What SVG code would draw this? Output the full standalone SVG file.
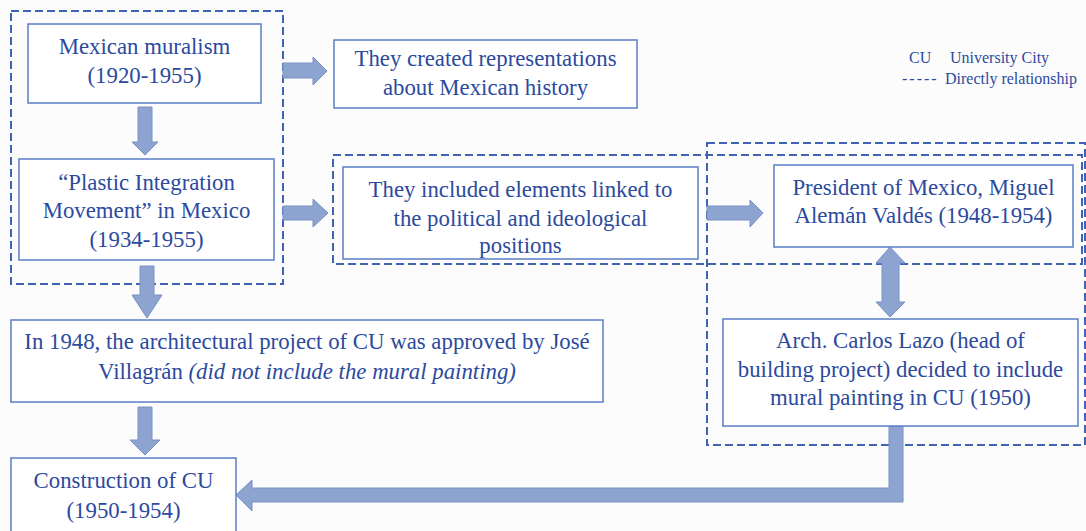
<svg xmlns="http://www.w3.org/2000/svg" width="1086" height="531" viewBox="0 0 1086 531">
  <style>
    .box { fill: #ffffff; stroke: #5a7ec6; stroke-width: 1.5; }
    .group { fill: none; stroke: #3f64b4; stroke-width: 2; stroke-dasharray: 8 4; }
    .arrow { fill: #8ea4d0; stroke: #7890c6; stroke-width: 1; }
    .t { font-family: "Liberation Serif", "Times New Roman", serif; font-size: 22.8px; fill: #2c4a9e; text-anchor: middle; }
    .legend { font-family: "Liberation Serif", "Times New Roman", serif; font-size: 16px; fill: #2c4a9e; }
  </style>
  <rect width="1086" height="531" fill="#fcfcfd"/>

  <!-- dashed grouping frames -->
  <g id="groups">
    <rect class="group" x="11" y="11" width="272" height="273"/>
    <rect class="group" x="333" y="155" width="749" height="109"/>
    <rect class="group" x="707" y="143" width="378" height="302"/>
  </g>

  <!-- block-arrow connectors -->
  <g id="connectors">
    <polygon class="arrow" points="283,63 313,63 313,57 327,71 313,85 313,78 283,78"/>
    <polygon class="arrow" points="283,206 313,206 313,199 328,213 313,227 313,220 283,220"/>
    <polygon class="arrow" points="707,206 750,206 750,200 763,213 750,227 750,220 707,220"/>
    <polygon class="arrow" points="138,107 152,107 152,142 158,142 145,155 132,142 138,142"/>
    <polygon class="arrow" points="140,266 154,266 154,295 162,295 147,318 132,295 140,295"/>
    <polygon class="arrow" points="138,407 152,407 152,440 160,440 145,455 130,440 138,440"/>
    <polygon class="arrow" points="890,247 905,263 899,263 899,302 905,302 890,317 876,302 882,302 882,263 876,263"/>
    <polygon class="arrow" points="889,426 903,426 903,502 252,502 252,511 236,495 252,480 252,488 889,488"/>
  </g>

  <g id="node-muralism">
    <rect class="box" x="28" y="24" width="233" height="79"/>
    <text class="t" x="144.5" y="54">Mexican muralism</text>
    <text class="t" x="144.5" y="83">(1920-1955)</text>
  </g>

  <g id="node-representations">
    <rect class="box" x="334" y="40" width="303" height="68"/>
    <text class="t" x="485.5" y="66">They created representations</text>
    <text class="t" x="485.5" y="95">about Mexican history</text>
  </g>

  <g id="node-plastic">
    <rect class="box" x="19" y="159" width="255" height="101"/>
    <text class="t" x="146.5" y="190">“Plastic Integration</text>
    <text class="t" x="146.5" y="218">Movement” in Mexico</text>
    <text class="t" x="146.5" y="247">(1934-1955)</text>
  </g>

  <g id="node-elements">
    <rect class="box" x="343" y="167" width="355" height="92"/>
    <text class="t" x="520.5" y="197">They included elements linked to</text>
    <text class="t" x="520.5" y="226">the political and ideological</text>
    <text class="t" x="520.5" y="253">positions</text>
  </g>

  <g id="node-president">
    <rect class="box" x="774" y="165" width="299" height="82"/>
    <text class="t" x="923.5" y="195">President of Mexico, Miguel</text>
    <text class="t" x="923.5" y="223">Alemán Valdés (1948-1954)</text>
  </g>

  <g id="node-lazo">
    <rect class="box" x="723" y="319" width="355" height="107"/>
    <text class="t" x="900.5" y="348">Arch. Carlos Lazo (head of</text>
    <text class="t" x="900.5" y="377">building project) decided to include</text>
    <text class="t" x="900.5" y="405">mural painting in CU (1950)</text>
  </g>

  <g id="node-project">
    <rect class="box" x="11" y="320" width="592" height="82"/>
    <text class="t" x="307" y="349">In 1948, the architectural project of CU was approved by José</text>
    <text class="t" x="307" y="379">Villagrán <tspan font-style="italic">(did not include the mural painting)</tspan></text>
  </g>

  <g id="node-construction">
    <rect class="box" x="11" y="458" width="225" height="80"/>
    <text class="t" x="123.5" y="488">Construction of CU</text>
    <text class="t" x="123.5" y="518">(1950-1954)</text>
  </g>

  <g id="legend">
    <text class="legend" x="909" y="63">CU</text>
    <text class="legend" x="950" y="63">University City</text>
    <text class="legend" x="902" y="84" letter-spacing="2">-----</text>
    <text class="legend" x="945" y="84">Directly relationship</text>
  </g>
</svg>
